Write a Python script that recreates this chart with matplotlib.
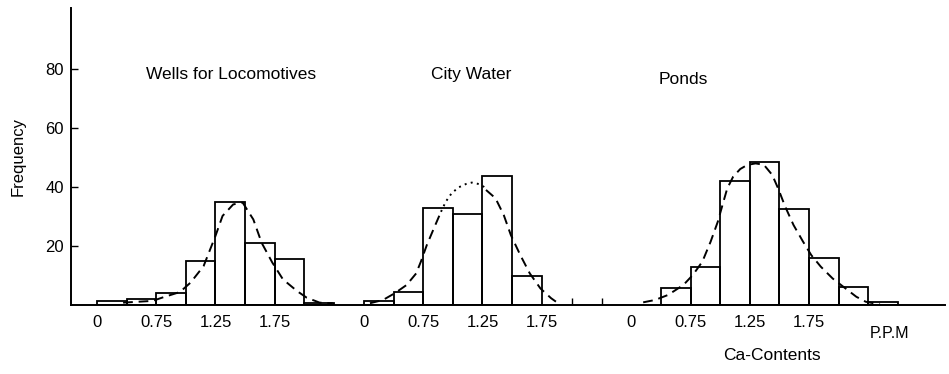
import matplotlib
matplotlib.use("Agg")
import matplotlib.pyplot as plt

plt.rcParams['font.family'] = ['Liberation Sans', 'DejaVu Sans']

# bin left edges (ppm, 0.25 wide) and frequencies
wells_bins = [0.25, 0.5, 0.75, 1.0, 1.25, 1.5, 1.75, 2.0]
wells_freq = [1.4, 1.9, 4.0, 14.9, 35.0, 21.1, 15.5, 0.8]
city_bins = [0.25, 0.5, 0.75, 1.0, 1.25, 1.5]
city_freq = [1.4, 4.5, 32.8, 30.7, 43.8, 9.8]
ponds_bins = [0.5, 0.75, 1.0, 1.25, 1.5, 1.75, 2.0, 2.25]
ponds_freq = [5.6, 13.0, 42.0, 48.6, 32.5, 15.8, 6.2, 1.1]

# fitted curves
wells_cx = [0.47, 0.72, 0.80, 0.95, 1.04, 1.15, 1.25, 1.31, 1.40, 1.48, 1.57,
            1.64, 1.73, 1.82, 1.94, 2.02, 2.13, 2.24]
wells_cy = [0.8, 1.4, 2.5, 4.4, 7.6, 13.2, 23.4, 30.2, 34.1, 34.7, 29.0,
            21.1, 14.4, 8.7, 4.7, 2.5, 0.8, 0.6]
city_cx = [0.30, 0.41, 0.51, 0.61, 0.69, 0.73, 0.78, 0.84, 0.90,
           0.94, 0.99, 1.05, 1.11, 1.16, 1.22, 1.26,
           1.28, 1.36, 1.43, 1.49, 1.57, 1.65, 1.74, 1.83, 1.91]
city_cy = [0.6, 1.7, 4.0, 6.8, 10.7, 14.7, 20.3, 26.0, 31.6,
           35.0, 37.9, 39.9, 41.0, 41.5, 41.0, 40.1,
           39.0, 36.2, 30.5, 23.7, 16.9, 10.7, 5.6, 2.3, 0.0]
ponds_cx = [0.35, 0.45, 0.56, 0.69, 0.77, 0.85, 0.92, 0.98, 1.02, 1.06, 1.11,
            1.17, 1.23, 1.30, 1.37, 1.44, 1.49, 1.55, 1.62, 1.70, 1.77, 1.85,
            1.95, 2.04, 2.15, 2.23, 2.35]
ponds_cy = [0.9, 1.7, 3.4, 6.8, 10.2, 14.7, 21.5, 28.2, 33.9, 39.5, 43.5,
            46.1, 47.5, 48.0, 47.5, 44.1, 39.5, 33.3, 27.1, 21.5, 16.9, 13.0,
            9.0, 6.2, 2.8, 1.1, 0.2]

titles = ["Wells for Locomotives", "City Water", "Ponds"]
tick_ppm = [0.25, 0.75, 1.25, 1.75]
tick_text = ["0", "0.75", "1.25", "1.75"]

# layout: each panel shifted along one common axis (units = bin widths)
offsets = [-0.12, 8.90, 17.93]
city_dot = (8, 16)   # indices of dotted part of the city curve

def pos(vals, k):
    return [offsets[k] + v * 4 for v in vals]

fig = plt.figure(figsize=(9.49, 3.74), dpi=100)
ax = fig.add_axes([71 / 949, 1 - 305 / 374, 874 / 949, 297 / 374])

panels = [(wells_bins, wells_freq), (city_bins, city_freq), (ponds_bins, ponds_freq)]
for k, (bins, freq) in enumerate(panels):
    ax.bar(pos(bins, k), freq, width=1, align='edge', fill=False,
           edgecolor='black', linewidth=1.3, zorder=2)

dash = dict(color='black', linewidth=1.4, linestyle=(0, (5, 3)), zorder=3)
ax.plot(pos(wells_cx, 0), wells_cy, **dash)
ax.plot(pos(ponds_cx, 2), ponds_cy, **dash)
a, b = city_dot
ax.plot(pos(city_cx[:a + 1], 1), city_cy[:a + 1], **dash)
ax.plot(pos(city_cx[b:], 1), city_cy[b:], **dash)
ax.plot(pos(city_cx[a:b + 1], 1), city_cy[a:b + 1], color='black',
        linewidth=1.4, linestyle=(0, (1, 2.2)), zorder=3)

# x tick labels per panel
xt, xl = [], []
for k in range(3):
    xt += pos(tick_ppm, k)
    xl += tick_text
ax.set_xticks(xt, xl)
ax.tick_params(axis='x', length=0, pad=7, labelsize=12)
ax.set_xticks(pos([-0.25, 0.0, 0.25], 2), minor=True)
ax.tick_params(axis='x', which='minor', direction='in', length=5, width=1)

ax.set_yticks([20, 40, 60, 80])
ax.tick_params(axis='y', direction='in', length=5, width=1, pad=5, labelsize=12)
ax.set_ylabel("Frequency", fontsize=12, labelpad=14)

ax.set_xlim(0, 874 / 29.6)
ax.set_ylim(0, 297 / 2.95)
for s in ['top', 'right']:
    ax.spines[s].set_visible(False)
for s in ['left', 'bottom']:
    ax.spines[s].set_linewidth(1.4)

title_x = [231, 471, 683]
title_y = [78, 78, 76.5]
for t, tx, ty in zip(titles, title_x, title_y):
    ax.text((tx - 71) / 29.6, ty, t, ha='center', va='center', fontsize=12.5)

ax.text(offsets[2] + 2.43 * 4, -9.7, "P.P.M", ha='center', va='center',
        fontsize=11.5, clip_on=False)
ax.text((772 - 71) / 29.6, -17, "Ca-Contents", ha='center', va='center',
        fontsize=12.5, clip_on=False)

fig.savefig("out.png", dpi=100)
